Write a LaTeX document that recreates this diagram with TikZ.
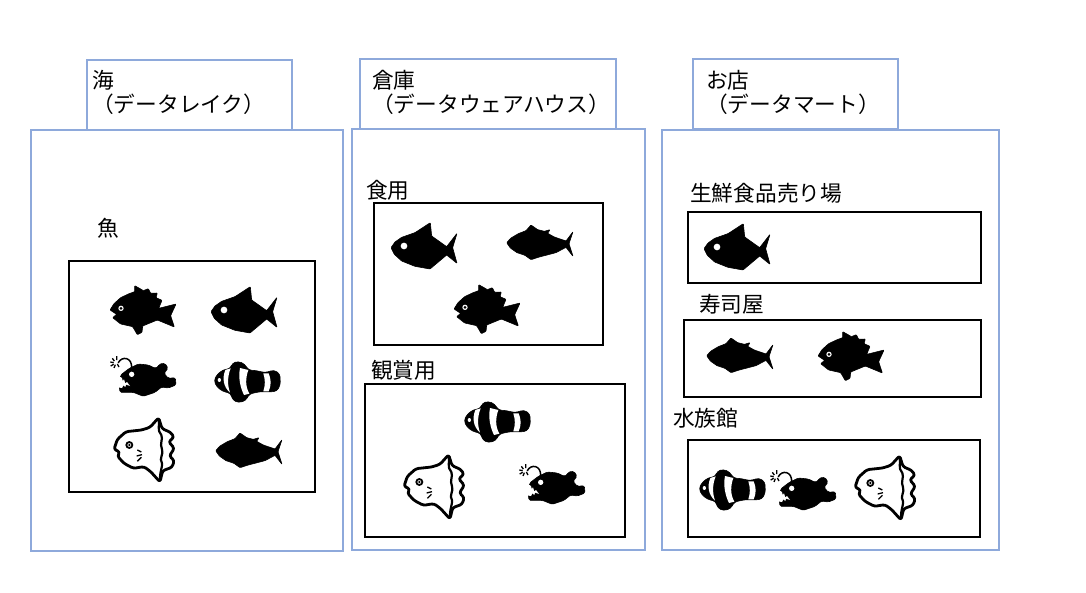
\documentclass[tikz,border=0pt]{standalone}
\usepackage{fontspec}
\setmainfont{Noto Sans CJK JP}
\tikzset{
  x=1pt,y=-1pt,
  bluebox/.style={draw={rgb,255:red,142;green,169;blue,219},line width=1.5pt,fill=white},
  blackbox/.style={draw=black,line width=1.5pt,fill=white},
  lbl/.style={anchor=west,inner sep=0pt,align=left,font=\fontsize{21.7}{24}\selectfont},
  blk/.style={fill=black,draw=black,line width=.6pt,rounded corners=.7pt,line join=round},
  fishA/.pic={\begin{scope}[scale=1/3]
    \path[blk] (30,105)--(42,86)--(62,68)--(85,57)--(104,50)--(104,32)--(122,42)--(130,47)--(145,41)--(152,55)--(172,54)--(168,68)--(186,76)--(176,100)--(228,87)--(212,122)--(223,156)--(172,135)--(128,153)--(126,172)--(112,179)--(98,155)--(62,147)--(38,128)--(50,118)--cycle;
    \fill[white] (63,100) circle (8);
    \fill[black] (63,100) circle (4.5);
  \end{scope}},
  fishB/.pic={\begin{scope}[scale=1/3]
    \path[blk] (333,110)--(345,93)--(365,79)--(405,65)--(451,35)--(455,75)--(500,107)--(531,67)--(518,110)--(531,157)--(500,132)--(450,174)--(405,166)--(365,150)--(343,130)--cycle;
    \fill[white] (372,105) circle (10);
  \end{scope}},
  fishC/.pic={\begin{scope}[scale=1/3]
    \path[blk,rounded corners=1.5pt] (62,75)--(88,55)--(115,42)--(145,45)--(165,55)--(175,50)--(178,42)--(195,40)--(204,55)--(192,70)--(205,85)--(226,83)--(228,105)--(205,114)--(185,111)--(165,127)--(130,139)--(100,127)--(60,127)--(58,110)--cycle;
    \fill[white] (95,73) circle (8);
    \fill[white] (56,78)--(66,84)--(68,93)--(72,88)--(76,100)--(81,96)--(90,108)--(78,104)--(76,111)--(70,106)--(66,114)--(54,112)--cycle;
    \draw[black,line width=1.5pt,line cap=round] (55,38) .. controls (65,18) and (97,20) .. (95,55);
    \draw[black,line width=1.3pt] (31,36)--(41,38) (37,25)--(43,33) (50,18)--(50,30) (32,48)--(41,43) (42,54)--(46,44) (52,42)--(57,51);
  \end{scope}},
  fishD/.pic={\begin{scope}[scale=1/3]
    \path[blk,rounded corners=3pt] (342,92)--(350,75)--(368,60)--(392,55)--(396,40)--(415,34)--(434,42)--(445,60)--(470,62)--(495,68)--(522,60)--(540,72)--(541,105)--(530,124)--(505,126)--(480,125)--(448,132)--(437,152)--(415,158)--(398,150)--(392,130)--(368,124)--(350,110)--cycle;
    \fill[white] (376,60) .. controls (366,85) and (370,110) .. (390,128) .. controls (382,105) and (382,80) .. (392,55)--cycle;
    \fill[white] (420,54) .. controls (414,85) and (422,115) .. (432,135) -- (448,131) .. controls (436,110) and (436,85) .. (445,60) --cycle;
    \fill[white] (490,70) .. controls (496,90) and (496,105) .. (490,124) -- (506,124) .. controls (514,105) and (514,90) .. (506,70) --cycle;
    \fill[white] (358,90) ellipse (5 and 6);
  \end{scope}},
  fishE/.pic={\begin{scope}[scale=1/3]
    \draw[black,line width=2.8pt,fill=white,line join=round,rounded corners=2.5pt] (42,298)--(52,268)--(78,245)--(125,240)--(150,232)--(176,203)--(186,236)--(212,247)--(222,262)--(206,275)--(223,295)--(208,318)--(223,332)--(216,352)--(188,362)--(180,396)--(152,365)--(132,350)--(100,355)--(72,340)--(52,318)--(60,306)--cycle;
    \draw[black,line width=2.2pt,line cap=round] (176,210) .. controls (180,225) and (170,240) .. (184,255) .. controls (190,268) and (178,280) .. (186,298) .. controls (192,312) and (176,325) .. (186,340) .. controls (188,350) and (178,370) .. (180,390);
    \draw[black,line width=1.8pt] (88,285) circle (9);
    \fill[black] (88,285) circle (4);
    \draw[black,line width=1.3pt] (112,300)--(124,306) (110,318)--(126,314) (112,334)--(124,322);
  \end{scope}},
  fishF/.pic={\begin{scope}[scale=1/3]
    \path[blk] (347,302)--(360,288)--(382,275)--(405,266)--(420,249)--(440,263)--(460,268)--(477,263)--(470,274)--(490,285)--(525,297)--(546,269)--(534,305)--(546,343)--(525,316)--(495,332)--(445,345)--(420,353)--(402,340)--(378,332)--(358,318)--cycle;
  \end{scope}}
}
\begin{document}
\begin{tikzpicture}
\useasboundingbox (0,0) rectangle (1086,593);
% tabs and outer boxes
\draw[bluebox] (87,60) rectangle (292,130);
\draw[bluebox] (31,130) rectangle (343,551);
\draw[bluebox] (360,59) rectangle (616,129);
\draw[bluebox] (352,129) rectangle (645,550);
\draw[bluebox] (693,59) rectangle (898,129);
\draw[bluebox] (662,130) rectangle (999,550);
% inner boxes
\draw[blackbox] (69,261) rectangle (315,492);
\draw[blackbox] (374,203) rectangle (603,345);
\draw[blackbox] (365,384) rectangle (625,537);
\draw[blackbox] (688,212) rectangle (981,283);
\draw[blackbox] (684,320) rectangle (981,397);
\draw[blackbox] (688,440) rectangle (980,537);
% labels
\node[lbl] (t1) at (92,92) {海\\（データレイク）};
\node[lbl] (t2) at (372,92) {倉庫\\（データウェアハウス）};
\node[lbl] (t3) at (706,92) {お店\\（データマート）};
\node[lbl] (l1) at (97,228) {魚};
\node[lbl] (l2) at (366,190) {食用};
\node[lbl] (l3) at (371,370) {観賞用};
\node[lbl] (l4) at (690,193) {生鮮食品売り場};
\node[lbl] (l5) at (699,304) {寿司屋};
\node[lbl] (l6) at (673,418) {水族館};
% sea
\pic at (100,275) {fishA};
\pic at (100,275) {fishB};
\pic at (100,350) {fishC};
\pic at (100,350) {fishD};
\pic at (100,350) {fishE};
\pic at (100,350) {fishF};
% food
\pic at (280,211) {fishB};
\pic at (391,142) {fishF};
\pic at (444,274) {fishA};
% ornamental
\pic at (350,390) {fishD};
\pic at (390,387) {fishE};
\pic at (509,458) {fishC};
% shops
\pic at (593,212) {fishB};
\pic at (591,255) {fishF};
\pic at (808,321) {fishA};
\pic at (585,458) {fishD};
\pic at (760,464) {fishC};
\pic at (841,388) {fishE};
\end{tikzpicture}
\end{document}
